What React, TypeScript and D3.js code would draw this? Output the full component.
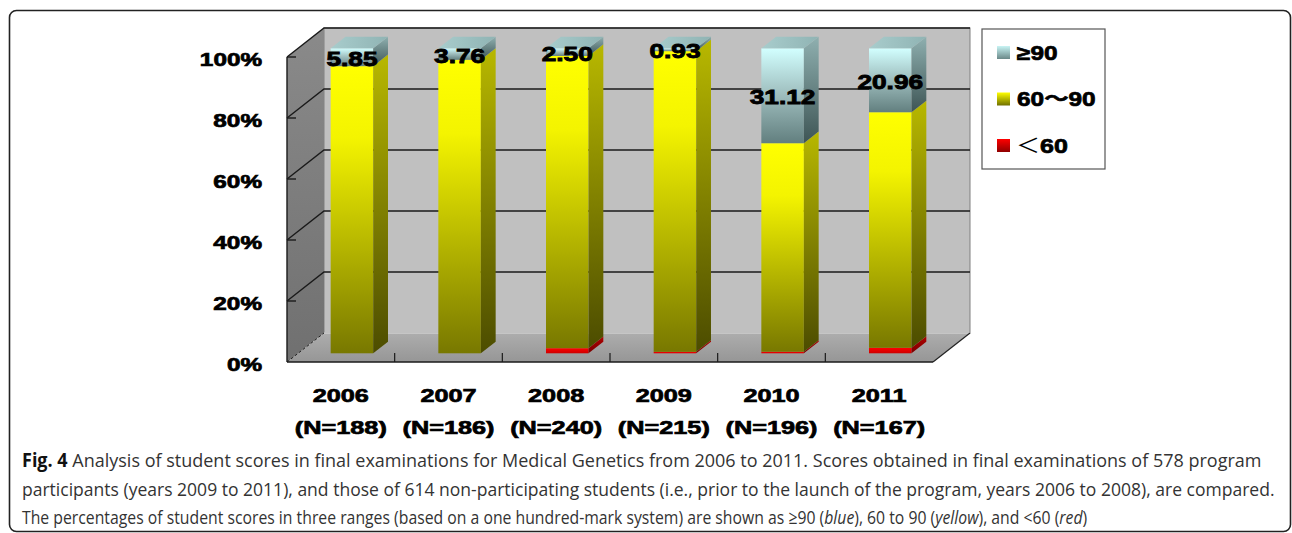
import React, { useRef, useEffect } from 'react';
import * as d3 from 'd3';

const years = ['2006', '2007', '2008', '2009', '2010', '2011'];
const counts = [188, 186, 240, 215, 196, 167];
const high = [5.85, 3.76, 2.5, 0.93, 31.12, 20.96];
const middle = [94.15, 96.24, 95.83, 98.6, 68.37, 77.24];
const low = [0, 0, 1.67, 0.47, 0.51, 1.8];
const yTicks = [0, 20, 40, 60, 80, 100];
const legendLabels = ['≥90', '60～90', '＜60'];

const captionLines = [
  'Analysis of student scores in final examinations for Medical Genetics from 2006 to 2011. Scores obtained in final examinations of 578 program',
  'participants (years 2009 to 2011), and those of 614 non-participating students (i.e., prior to the launch of the program, years 2006 to 2008), are compared.',
];
// target right edges of the caption lines
const captionEnds = [1262, 1276, 1088];
const captionBase = [467, 495.5, 524];

const W = 1292;
const H = 533;

// 3d box of the plot
const FX0 = 287;
const FX1 = 933;
const DX = 37;
const DY = -29;
const BAR_D0 = 0.3;
const BAR_D = 0.4;

const FONT = '"Liberation Sans", Arial, "Noto Sans CJK SC", sans-serif';

function App() {
  const capRef = useRef<SVGGElement>(null);

  useEffect(() => {
    // squeeze each caption line to the width it has in the figure
    const g = capRef.current;
    if (!g) return;
    g.querySelectorAll('text').forEach((t, i) => {
      const len = (t as SVGTextElement).getComputedTextLength();
      const sx = (captionEnds[i] - 22) / len;
      t.setAttribute('transform', `translate(22,${captionBase[i]}) scale(${sx},1)`);
    });
  }, []);

  const rows = years.map((y, i) => ({ year: y, low: low[i], mid: middle[i], high: high[i] }));
  const series = d3.stack<any>().keys(['low', 'mid', 'high'])(rows);

  const x = d3.scaleBand<string>().domain(years).range([FX0, FX1]).paddingInner(0.605).paddingOuter(0.3025);
  const y = d3.scaleLinear().domain([0, 100]).range([362, 57]);
  const step = x.step();
  const bw = x.bandwidth();
  const bdx = DX * BAR_D;
  const bdy = DY * BAR_D;
  const offX = DX * BAR_D0;
  const offY = DY * BAR_D0;

  const fills: Record<string, string[]> = {
    low: ['url(#rFront)', 'url(#rSide)', '#b30000'],
    mid: ['url(#yFront)', 'url(#ySide)', '#c8c800'],
    high: ['url(#bFront)', 'url(#bSide)', 'url(#bTop)'],
  };

  const pt = (a: number[][]) => a.map((p) => p.join(',')).join(' ');

  const bars: React.ReactNode[] = [];
  years.forEach((yr, i) => {
    const L = (x(yr) as number) + offX;
    series.forEach((s, si) => {
      const [v0, v1] = s[i];
      if (v1 - v0 <= 0) return;
      const y0 = y(v0) + offY;
      const y1 = y(v1) + offY;
      const f = fills[s.key];
      const isTop = si === series.length - 1;
      bars.push(
        <g key={yr + s.key}>
          <rect x={L} y={y1} width={bw} height={y0 - y1} fill={f[0]} />
          <polygon
            points={pt([[L + bw, y1], [L + bw + bdx, y1 + bdy], [L + bw + bdx, y0 + bdy], [L + bw, y0]])}
            fill={f[1]}
          />
          {isTop && (
            <polygon
              points={pt([[L, y1], [L + bw, y1], [L + bw + bdx, y1 + bdy], [L + bdx, y1 + bdy]])}
              fill={f[2]}
            />
          )}
        </g>
      );
    });
  });

  const hs = series[2];
  const valueLabels = years.map((yr, i) => {
    const cx = (x(yr) as number) + offX + bw / 2;
    const cy = (y(hs[i][0]) + y(hs[i][1])) / 2 + offY + 1;
    return (
      <text
        key={'v' + yr}
        transform={`translate(${cx},${cy}) scale(1.25,1)`}
        textAnchor="middle"
        dominantBaseline="central"
        fontFamily={FONT}
        fontWeight="bold"
        fontSize={21}
        fill="#000"
        stroke="#000"
        strokeWidth={0.9}
      >
        {high[i].toFixed(2)}
      </text>
    );
  });

  const swatches = ['url(#lgB)', 'url(#lgY)', 'url(#lgR)'];

  return (
    <svg width={W} height={H} style={{ position: 'absolute', left: 0, top: 0, background: '#fff' }}>
      <defs>
        <linearGradient id="yFront" x1="0" y1="0" x2="0" y2="1">
          <stop offset="0" stopColor="#ffff00" />
          <stop offset="0.25" stopColor="#f4f400" />
          <stop offset="1" stopColor="#787800" />
        </linearGradient>
        <linearGradient id="ySide" x1="0" y1="0" x2="0" y2="1">
          <stop offset="0" stopColor="#b8b800" />
          <stop offset="1" stopColor="#4c4c00" />
        </linearGradient>
        <linearGradient id="bFront" x1="0" y1="0" x2="0" y2="1">
          <stop offset="0" stopColor="#d2ffff" />
          <stop offset="0.5" stopColor="#9dbcbc" />
          <stop offset="1" stopColor="#627f7f" />
        </linearGradient>
        <linearGradient id="bSide" x1="0" y1="0" x2="0" y2="1">
          <stop offset="0" stopColor="#8fb0b0" />
          <stop offset="1" stopColor="#3e5555" />
        </linearGradient>
        <linearGradient id="bTop" x1="0" y1="0" x2="1" y2="0">
          <stop offset="0" stopColor="#a8cccc" />
          <stop offset="1" stopColor="#90b4b4" />
        </linearGradient>
        <linearGradient id="rFront" x1="0" y1="0" x2="0" y2="1">
          <stop offset="0" stopColor="#ff0000" />
          <stop offset="1" stopColor="#cc0000" />
        </linearGradient>
        <linearGradient id="rSide" x1="0" y1="0" x2="0" y2="1">
          <stop offset="0" stopColor="#b00000" />
          <stop offset="1" stopColor="#780000" />
        </linearGradient>
        <linearGradient id="wallL" x1="0" y1="0" x2="0" y2="1">
          <stop offset="0" stopColor="#8a8a8a" />
          <stop offset="1" stopColor="#707070" />
        </linearGradient>
        <linearGradient id="floor" x1="0" y1="0" x2="0" y2="1">
          <stop offset="0" stopColor="#adadad" />
          <stop offset="1" stopColor="#969696" />
        </linearGradient>
        <linearGradient id="lgB" x1="0" y1="0" x2="0" y2="1">
          <stop offset="0" stopColor="#c8f4f4" />
          <stop offset="1" stopColor="#6a8888" />
        </linearGradient>
        <linearGradient id="lgY" x1="0" y1="0" x2="0" y2="1">
          <stop offset="0" stopColor="#ffff00" />
          <stop offset="1" stopColor="#707000" />
        </linearGradient>
        <linearGradient id="lgR" x1="0" y1="0" x2="0" y2="1">
          <stop offset="0" stopColor="#ff0000" />
          <stop offset="1" stopColor="#900000" />
        </linearGradient>
      </defs>

      {/* figure frame */}
      <rect x={9.5} y={10.5} width={1281} height={521} rx={7} fill="none" stroke="#222" strokeWidth={1.6} />

      {/* back wall */}
      <rect x={FX0 + DX} y={y(100) + DY} width={FX1 - FX0} height={y(0) - y(100)} fill="#c0c0c0" stroke="#808080" strokeWidth={1} />
      {/* left wall */}
      <polygon
        points={pt([[FX0, y(0)], [FX0, y(100)], [FX0 + DX, y(100) + DY], [FX0 + DX, y(0) + DY]])}
        fill="url(#wallL)"
      />
      {/* floor */}
      <polygon
        points={pt([[FX0, y(0)], [FX1, y(0)], [FX1 + DX, y(0) + DY], [FX0 + DX, y(0) + DY]])}
        fill="url(#floor)"
      />
      <line x1={FX0 + DX} y1={y(0) + DY} x2={FX1 + DX} y2={y(0) + DY} stroke="#e0e0e0" strokeWidth={1} />
      <line x1={FX0} y1={y(0)} x2={FX0 + DX} y2={y(0) + DY} stroke="#222" strokeWidth={1} strokeDasharray="3,2" />
      <line x1={FX1} y1={y(0)} x2={FX1 + DX} y2={y(0) + DY} stroke="#222" strokeWidth={1.2} />

      {/* gridlines */}
      {yTicks.filter((t) => t > 0).map((t) => (
        <g key={'g' + t}>
          <polyline
            points={pt([[FX0, y(t)], [FX0 + DX, y(t) + DY], [FX1 + DX, y(t) + DY]])}
            fill="none"
            stroke="#1a1a1a"
            strokeWidth={1.4}
          />
          <line x1={FX0} y1={y(t)} x2={FX0 + 9} y2={y(t)} stroke="#1a1a1a" strokeWidth={1.4} />
        </g>
      ))}

      {/* axes */}
      <line x1={FX0} y1={y(0)} x2={FX0} y2={y(100)} stroke="#1a1a1a" strokeWidth={1.4} />
      <line x1={FX0} y1={y(0)} x2={FX1} y2={y(0)} stroke="#1a1a1a" strokeWidth={1.6} />
      {d3.range(1, years.length).map((k) => (
        <line key={'t' + k} x1={FX0 + k * step} y1={y(0)} x2={FX0 + k * step} y2={y(0) - 9} stroke="#1a1a1a" strokeWidth={1.2} />
      ))}

      {bars}
      {valueLabels}

      {/* y labels */}
      {yTicks.map((t) => (
        <text
          key={'yl' + t}
          transform={`translate(262,${y(t) + 3}) scale(1.35,1)`}
          textAnchor="end"
          dominantBaseline="central"
          fontFamily={FONT}
          fontWeight="bold"
          fontSize={18}
          fill="#000"
          stroke="#000"
          strokeWidth={0.7}
        >
          {t + '%'}
        </text>
      ))}

      {/* x labels */}
      {years.map((yr, i) => {
        const cx = (x(yr) as number) + bw / 2;
        return (
          <g key={'xl' + yr} fontFamily={FONT} fontWeight="bold" fontSize={19} fill="#000" stroke="#000" strokeWidth={0.7}>
            <text transform={`translate(${cx},402) scale(1.33,1)`} textAnchor="middle">
              {yr}
            </text>
            <text transform={`translate(${cx},434) scale(1.33,1)`} textAnchor="middle">
              {`(N=${counts[i]})`}
            </text>
          </g>
        );
      })}

      {/* legend */}
      <rect x={982} y={29} width={123} height={140} fill="#fff" stroke="#555" strokeWidth={1.2} />
      {legendLabels.map((lab, i) => {
        const cy = 52 + i * 46.5;
        return (
          <g key={'lg' + i}>
            <rect x={997} y={cy - 6} width={13} height={13} fill={swatches[i]} />
            {i === 2 ? (
              <g>
                <text
                  transform={`translate(1016,${cy + 1}) scale(1.2,1)`}
                  dominantBaseline="central"
                  fontFamily={FONT}
                  fontSize={20}
                  fill="#000"
                >
                  ＜
                </text>
                <text
                  transform={`translate(1040,${cy + 1}) scale(1.25,1)`}
                  dominantBaseline="central"
                  fontFamily={FONT}
                  fontWeight="bold"
                  fontSize={20}
                  fill="#000"
                  stroke="#000"
                  strokeWidth={0.7}
                >
                  60
                </text>
              </g>
            ) : (
              <text
                transform={`translate(1017,${cy + 1}) scale(1.22,1)`}
                dominantBaseline="central"
                fontFamily={FONT}
                fontWeight="bold"
                fontSize={20}
                fill="#000"
                stroke="#000"
                strokeWidth={0.7}
              >
                {lab}
              </text>
            )}
          </g>
        );
      })}

      {/* caption */}
      <g ref={capRef} fontFamily='"Open Sans", "Noto Sans", sans-serif' fontSize={19} fill="#333">
        <text transform={`translate(22,${captionBase[0]})`}>
          <tspan fontWeight="bold" fill="#111">Fig. 4</tspan> {captionLines[0]}
        </text>
        <text transform={`translate(22,${captionBase[1]})`}>{captionLines[1]}</text>
        <text transform={`translate(22,${captionBase[2]})`}>
          {'The percentages of student scores in three ranges (based on a one hundred-mark system) are shown as ≥90 ('}
          <tspan fontStyle="italic">blue</tspan>
          {'), 60 to 90 ('}
          <tspan fontStyle="italic">yellow</tspan>
          {'), and <60 ('}
          <tspan fontStyle="italic">red</tspan>
          {')'}
        </text>
      </g>
    </svg>
  );
}

export default App;
